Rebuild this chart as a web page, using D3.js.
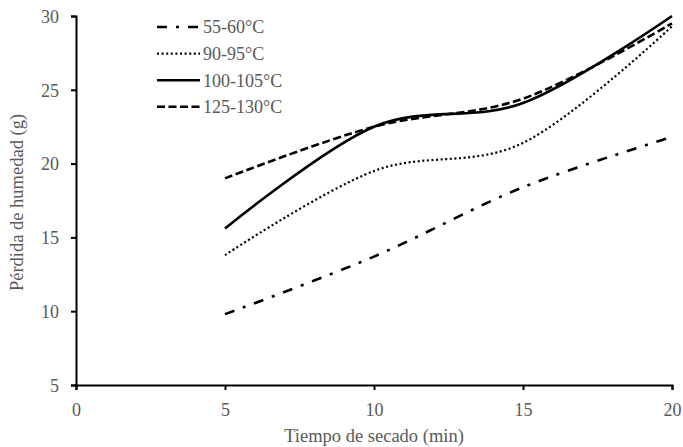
<!DOCTYPE html>
<html>
<head>
<meta charset="utf-8">
<script src="https://cdn.jsdelivr.net/npm/d3@7"></script>
<style>
  body { margin: 0; background: #fff; }
  svg { font-family: "Liberation Serif", "DejaVu Serif", serif; }
</style>
</head>
<body>
<svg id="chart" width="683" height="447"></svg>
<script>
// data
const times = [5, 10, 15, 20];
const s55 = [9.8, 13.7, 18.4, 21.8];
const s90 = [13.8, 19.5, 21.4, 29.3];
const s100 = [15.6, 22.5, 24.1, 30.0];
const s125 = [19.0, 22.5, 24.4, 29.5];
const seriesNames = ["55-60°C", "90-95°C", "100-105°C", "125-130°C"];
const xTicks = [0, 5, 10, 15, 20];
const yTicks = [5, 10, 15, 20, 25, 30];

const series = [
  { name: seriesNames[0], values: s55, dash: "10,9,3,9", width: 2.6 },
  { name: seriesNames[1], values: s90, dash: "2,2.6", width: 2.2 },
  { name: seriesNames[2], values: s100, dash: null, width: 2.6 },
  { name: seriesNames[3], values: s125, dash: "8,3.5", width: 2.6 }
];

const margin = { left: 76, top: 16, right: 11, bottom: 62 };
const width = 683 - margin.left - margin.right;
const height = 447 - margin.top - margin.bottom;

const svg = d3.select("#chart");
const g = svg.append("g")
  .attr("transform", "translate(" + margin.left + "," + margin.top + ")");

const x = d3.scaleLinear().domain([0, 20]).range([0, width]);
const y = d3.scaleLinear().domain([5, 30]).range([height, 0]);

const xAxis = d3.axisBottom(x).tickValues(xTicks).tickSize(5).tickPadding(13);
const yAxis = d3.axisLeft(y).tickValues(yTicks).tickSize(5).tickPadding(12);

const gx = g.append("g")
  .attr("transform", "translate(0," + height + ")")
  .call(xAxis);
const gy = g.append("g").call(yAxis);

[gx, gy].forEach(function(a) {
  a.select(".domain").attr("stroke", "#000").attr("stroke-width", 2);
  a.selectAll(".tick line").attr("stroke", "#000").attr("stroke-width", 2);
  a.selectAll(".tick text")
    .attr("fill", "#595959")
    .style("font-size", "18px")
    .style("font-family", "Liberation Serif");
});
gy.selectAll(".tick text").attr("dy", "0.35em");

const line = d3.line()
  .x(function(d, i) { return x(times[i]); })
  .y(function(d) { return y(d); })
  .curve(d3.curveCatmullRom.alpha(0));

g.selectAll(".series")
  .data(series)
  .enter()
  .append("path")
  .attr("class", "series")
  .attr("fill", "none")
  .attr("stroke", "#000")
  .attr("stroke-width", function(d) { return d.width; })
  .attr("stroke-dasharray", function(d) { return d.dash; })
  .attr("d", function(d) { return line(d.values); });

// legend
const legend = svg.append("g").attr("transform", "translate(157,27)");
const rows = legend.selectAll(".row")
  .data(series)
  .enter()
  .append("g")
  .attr("class", "row")
  .attr("transform", function(d, i) { return "translate(0," + i * 26.6 + ")"; });
rows.append("line")
  .attr("x1", 0).attr("x2", 43)
  .attr("stroke", "#000")
  .attr("stroke-width", function(d) { return d.width; })
  .attr("stroke-dasharray", function(d) { return d.dash; });
rows.append("text")
  .attr("x", 46)
  .attr("dy", "0.35em")
  .attr("fill", "#595959")
  .style("font-size", "18px")
  .text(function(d) { return d.name; });

// axis titles
svg.append("text")
  .attr("x", margin.left + width / 2)
  .attr("y", 442)
  .attr("text-anchor", "middle")
  .attr("fill", "#595959")
  .style("font-size", "18.5px")
  .text("Tiempo de secado (min)");

svg.append("text")
  .attr("transform", "translate(23," + (margin.top + height / 2 + 2) + ") rotate(-90)")
  .attr("text-anchor", "middle")
  .attr("fill", "#595959")
  .style("font-size", "18.5px")
  .text("Pérdida de humedad (g)");
</script>
</body>
</html>
